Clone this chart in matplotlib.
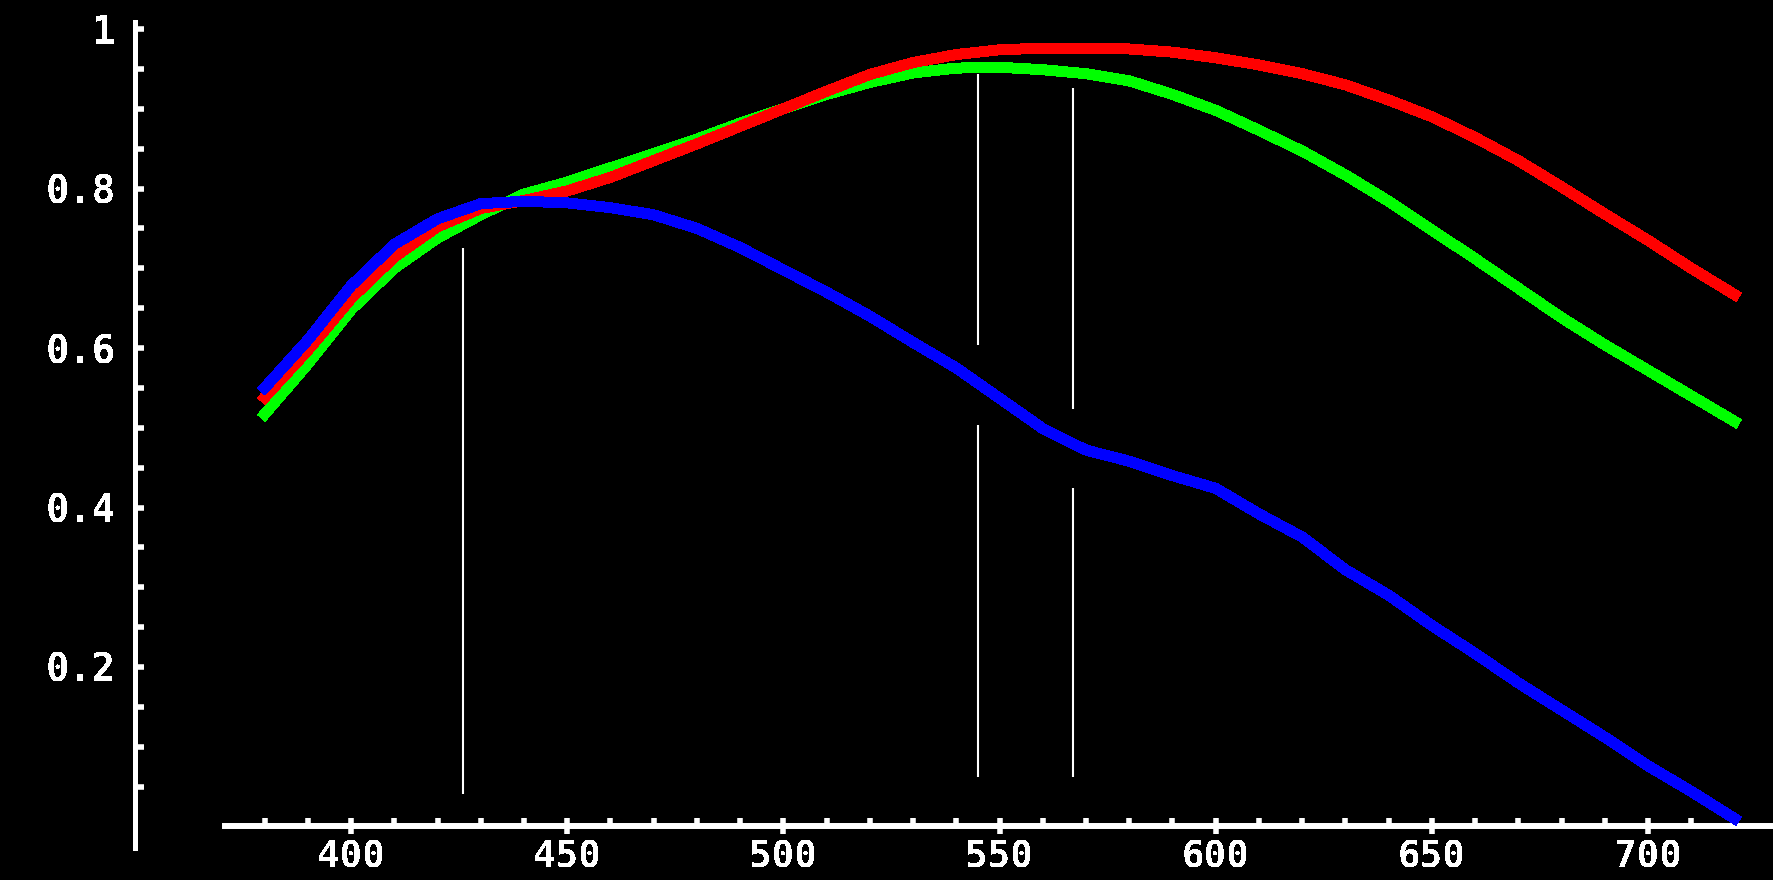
import numpy as np
import matplotlib
matplotlib.use("Agg")
import matplotlib.pyplot as plt
from matplotlib.ticker import FixedLocator

# ---------------- data ----------------
wavelength = [380, 390, 400, 410, 420, 430, 440, 450, 460, 470, 480, 490, 500,
              510, 520, 530, 540, 550, 560, 570, 580, 590, 600, 610, 620, 630,
              640, 650, 660, 670, 680, 690, 700, 710, 720]

red = [0.538, 0.597, 0.662, 0.714, 0.752, 0.775, 0.785, 0.797, 0.814, 0.835,
       0.856, 0.878, 0.900, 0.922, 0.943, 0.958, 0.968, 0.974, 0.976, 0.976,
       0.975, 0.971, 0.964, 0.955, 0.944, 0.930, 0.911, 0.890, 0.864, 0.835,
       0.802, 0.768, 0.735, 0.700, 0.667]

green = [0.517, 0.580, 0.648, 0.700, 0.738, 0.767, 0.793, 0.808, 0.826, 0.844,
         0.862, 0.882, 0.900, 0.918, 0.933, 0.945, 0.951, 0.952, 0.949, 0.944,
         0.935, 0.918, 0.898, 0.873, 0.847, 0.817, 0.784, 0.748, 0.712, 0.675,
         0.638, 0.604, 0.572, 0.540, 0.508]

blue = [0.550, 0.610, 0.678, 0.730, 0.762, 0.781, 0.784, 0.782, 0.776, 0.767,
        0.750, 0.726, 0.698, 0.670, 0.640, 0.607, 0.575, 0.537, 0.499, 0.472,
        0.458, 0.440, 0.424, 0.392, 0.363, 0.322, 0.290, 0.252, 0.217, 0.180,
        0.146, 0.112, 0.076, 0.044, 0.010]

# white marker lines: x position and (bottom, top) segments
marker_x = [426, 545, 545, 567, 567]
marker_lo = [0.041, 0.062, 0.604, 0.062, 0.523]
marker_hi = [0.725, 0.503, 0.944, 0.424, 0.926]

x_major = [400, 450, 500, 550, 600, 650, 700]
x_labels = ["400", "450", "500", "550", "600", "650", "700"]
x_minor = [380, 390, 410, 420, 430, 440, 460, 470, 480, 490, 510, 520, 530,
           540, 560, 570, 580, 590, 610, 620, 630, 640, 660, 670, 680, 690,
           710, 720]
y_major = [0.2, 0.4, 0.6, 0.8, 1.0]
y_labels = ["0.2", "0.4", "0.6", "0.8", "1"]
y_minor = [0.05, 0.1, 0.15, 0.25, 0.3, 0.35, 0.45, 0.5, 0.55, 0.65, 0.7,
           0.75, 0.85, 0.9, 0.95]

# ---------------- figure ----------------
plt.rcParams['text.antialiased'] = False
W, H, DPI = 1773, 880, 100
fig = plt.figure(figsize=(W / DPI, H / DPI), dpi=DPI, facecolor="black")
ax = fig.add_axes([0, 0, 1, 1], facecolor="black")

ax.set_xlim(318.8, 728.9)
ax.set_ylim(-0.0671, 1.0364)

lw = 7.2
for ys, col in [(green, "#00ff00"), (red, "#ff0000"), (blue, "#0000ff")]:
    ax.plot(wavelength, ys, color=col, lw=lw, solid_capstyle="projecting",
            solid_joinstyle="miter", antialiased=False, zorder=3)

ax.vlines(marker_x, marker_lo, marker_hi, colors="white", lw=1.5, zorder=2)

for s in ["top", "right"]:
    ax.spines[s].set_visible(False)
ax.spines["left"].set_position(("data", 350))
ax.spines["left"].set_bounds(-0.027, 1.009)
ax.spines["left"].set_color("white")
ax.spines["left"].set_linewidth(3.6)
ax.spines["bottom"].set_position(("data", 0))
ax.spines["bottom"].set_bounds(370.9, 728.9)
ax.spines["bottom"].set_color("white")
ax.spines["bottom"].set_linewidth(4.3)

ax.xaxis.set_major_locator(FixedLocator(x_major))
ax.xaxis.set_minor_locator(FixedLocator(x_minor))
ax.set_xticklabels(x_labels)
ax.yaxis.set_major_locator(FixedLocator(y_major))
ax.yaxis.set_minor_locator(FixedLocator(y_minor))
ax.set_yticklabels(y_labels)

ax.tick_params(axis="x", which="major", direction="inout", length=11.5,
               width=4, color="white", pad=3.5, labelcolor="white",
               labelsize=27)
ax.tick_params(axis="x", which="minor", direction="in", length=5.8,
               width=4, color="white")
ax.tick_params(axis="y", which="both", direction="in", length=6.8,
               width=4, color="white", pad=14, labelcolor="white",
               labelsize=28)
for lab in ax.get_xticklabels() + ax.get_yticklabels():
    lab.set_fontfamily("DejaVu Sans Mono")
    lab.set_fontweight("bold")

fig.savefig("out.png", dpi=DPI, facecolor="black")
